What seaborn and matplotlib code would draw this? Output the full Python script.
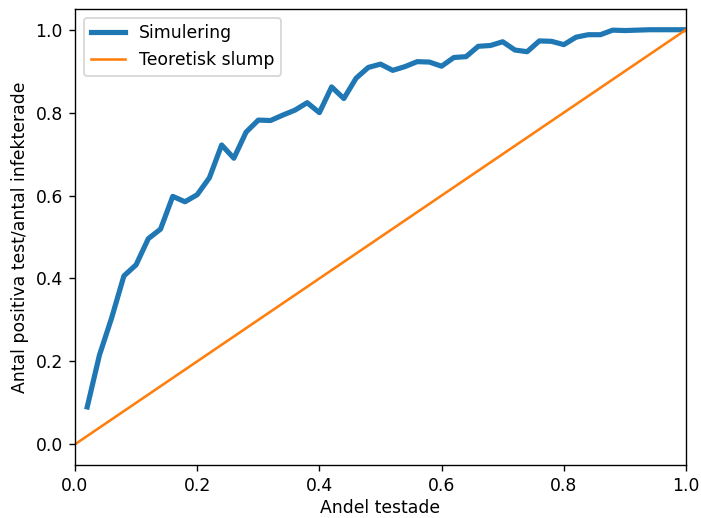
import numpy as np
import pandas as pd
import matplotlib
matplotlib.use("Agg")
import matplotlib.pyplot as plt
import seaborn as sns

# Share of population tested vs. share of infected found
andel_testade = [0.02, 0.04, 0.06, 0.08, 0.10, 0.12, 0.14, 0.16, 0.18, 0.20,
                 0.22, 0.24, 0.26, 0.28, 0.30, 0.32, 0.34, 0.36, 0.38, 0.40,
                 0.42, 0.44, 0.46, 0.48, 0.50, 0.52, 0.54, 0.56, 0.58, 0.60,
                 0.62, 0.64, 0.66, 0.68, 0.70, 0.72, 0.74, 0.76, 0.78, 0.80,
                 0.82, 0.84, 0.86, 0.88, 0.90, 0.92, 0.94, 0.96, 0.98, 1.00]
simulering = [0.090, 0.215, 0.305, 0.406, 0.433, 0.496, 0.519, 0.598, 0.585, 0.602,
              0.643, 0.722, 0.690, 0.753, 0.782, 0.781, 0.794, 0.806, 0.824, 0.800,
              0.862, 0.834, 0.883, 0.909, 0.917, 0.902, 0.911, 0.923, 0.922, 0.912,
              0.933, 0.935, 0.960, 0.962, 0.971, 0.951, 0.947, 0.973, 0.972, 0.964,
              0.982, 0.988, 0.988, 0.999, 0.998, 0.999, 1.000, 1.000, 1.000, 1.000]
slump_x = [0.0, 1.0]
slump_y = [0.0, 1.0]

sim_df = pd.DataFrame({"x": andel_testade, "y": simulering})
slump_df = pd.DataFrame({"x": slump_x, "y": slump_y})

DPI = 124
fig = plt.figure(figsize=(701 / DPI, 518 / DPI), dpi=DPI)
ax = fig.add_axes([75 / 701, 1 - 465 / 518, 611 / 701, 456 / 518])

sns.lineplot(data=sim_df, x="x", y="y", ax=ax, color="#1f77b4", linewidth=3,
             label="Simulering")
sns.lineplot(data=slump_df, x="x", y="y", ax=ax, color="#ff7f0e", linewidth=1.5,
             label="Teoretisk slump")

ax.set_xlim(0, 1)
ax.set_ylim(-0.05, 1.05)
ax.set_xticks([0.0, 0.2, 0.4, 0.6, 0.8, 1.0])
ax.set_yticks([0.0, 0.2, 0.4, 0.6, 0.8, 1.0])
ax.set_xlabel("Andel testade", fontsize=10, labelpad=2.5)
ax.set_ylabel("Antal positiva test/antal infekterade", fontsize=10)
ax.tick_params(labelsize=10)
ax.legend(loc="upper left", fontsize=10)

fig.savefig("out.png", dpi=DPI)
